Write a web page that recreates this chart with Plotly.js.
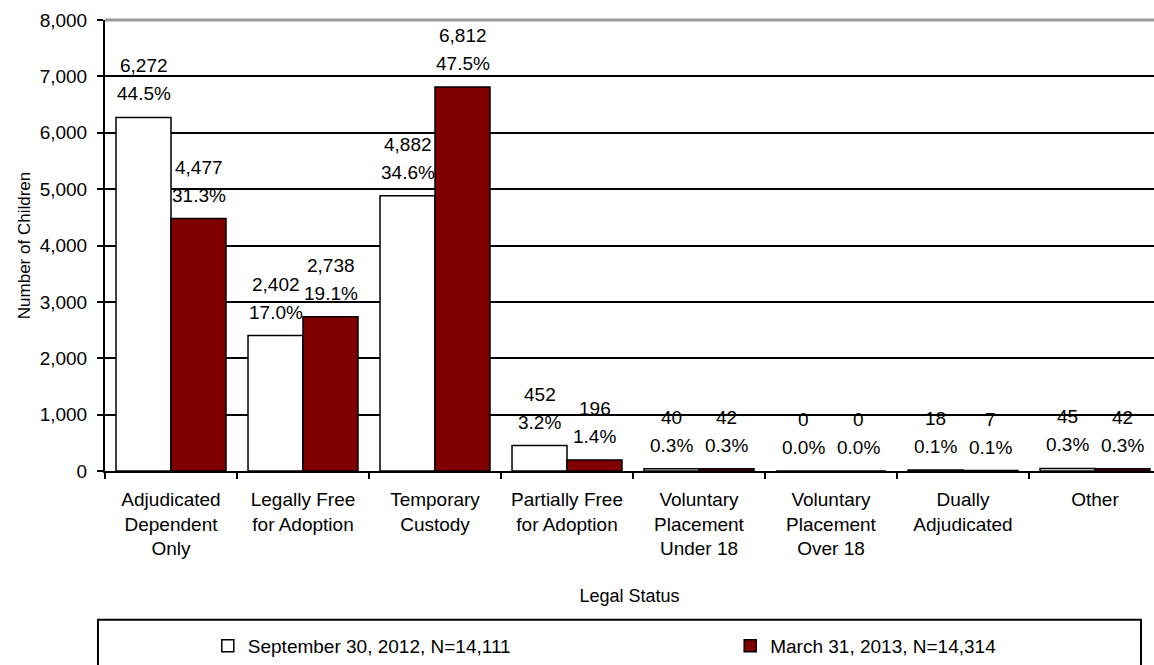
<!DOCTYPE html>
<html>
<head>
<meta charset="utf-8">
<script src="https://cdn.plot.ly/plotly-3.0.1.min.js"></script>
<style>html,body{margin:0;padding:0;background:#fff;}#chart{width:1154px;height:665px;}</style>
</head>
<body>
<div id="chart"></div>
<script>
const categories = ["Adjudicated<br>Dependent<br>Only", "Legally Free<br>for Adoption", "Temporary<br>Custody", "Partially Free<br>for Adoption", "Voluntary<br>Placement<br>Under 18", "Voluntary<br>Placement<br>Over 18", "Dually<br>Adjudicated", "Other"];
const seriesNames = ["September 30, 2012, N=14,111", "March 31, 2013, N=14,314"];
const sep2012 = [6272, 2402, 4882, 452, 40, 0, 18, 45];
const pct2012 = ["44.5%", "17.0%", "34.6%", "3.2%", "0.3%", "0.0%", "0.1%", "0.3%"];
const mar2013 = [4477, 2738, 6812, 196, 42, 0, 7, 42];
const pct2013 = ["31.3%", "19.1%", "47.5%", "1.4%", "0.3%", "0.0%", "0.1%", "0.3%"];
const yTickVals = [0, 1000, 2000, 3000, 4000, 5000, 6000, 7000, 8000];

const FONT = "Liberation Sans, Arial, sans-serif";
const traces = [
  {type: "bar", name: seriesNames[0], x: categories, y: sep2012, legend: "legend",
   marker: {color: "#ffffff", line: {color: "#000000", width: 1.5}}, hoverinfo: "y"},
  {type: "bar", name: seriesNames[1], x: categories, y: mar2013, legend: "legend2",
   marker: {color: "#800000", line: {color: "#000000", width: 1.5}}, hoverinfo: "y"}
];

const annotations = [];
const fmt = v => v.toLocaleString("en-US");
[[sep2012, pct2012, -27.5], [mar2013, pct2013, 27.5]].forEach(([vals, pcts, shift]) => {
  vals.forEach((v, i) => {
    annotations.push({x: categories[i], y: v, xref: "x", yref: "y", xshift: shift, yshift: 11,
      yanchor: "bottom", showarrow: false, text: pcts[i], font: {size: 19, color: "#000", family: FONT}});
    annotations.push({x: categories[i], y: v, xref: "x", yref: "y", xshift: shift, yshift: 39,
      yanchor: "bottom", showarrow: false, text: fmt(v), font: {size: 19, color: "#000", family: FONT}});
  });
});

const legendBase = {orientation: "h", xanchor: "left", y: -0.388, yanchor: "middle",
  font: {size: 19, family: FONT}, bgcolor: "rgba(0,0,0,0)"};

const layout = {
  width: 1154, height: 665,
  margin: {l: 105, r: 0, t: 20, b: 194},
  paper_bgcolor: "#ffffff", plot_bgcolor: "#ffffff",
  font: {family: FONT, size: 19, color: "#000"},
  barmode: "group", bargap: 0.167, bargroupgap: 0,
  showlegend: true,
  legend: Object.assign({}, legendBase, {x: 0.098}),
  legend2: Object.assign({}, legendBase, {x: 0.596}),
  xaxis: {type: "category", range: [-0.5, 7.447], tickson: "boundaries", ticks: "outside", ticklen: 6,
    tickwidth: 2, tickcolor: "#000", showline: true, linecolor: "#000", linewidth: 2, showgrid: false,
    tickfont: {size: 19}, tickangle: 0, ticklabelstandoff: 10,
    title: {text: "Legal Status", font: {size: 18}, standoff: 31}},
  yaxis: {range: [0, 8000], tickvals: yTickVals, tickformat: ",", ticks: "outside", ticklen: 6, tickwidth: 2,
    tickcolor: "#000", showline: true, linecolor: "#000", linewidth: 2, showgrid: true, gridcolor: "#000",
    gridwidth: 2, zeroline: false, tickfont: {size: 19}, ticklabelstandoff: 6,
    title: {text: "Number of Children", font: {size: 17}, standoff: 5}},
  shapes: [
    {type: "line", xref: "paper", yref: "paper", x0: 0, x1: 1, y0: 1, y1: 1, line: {color: "#999999", width: 3}, layer: "above"},
    {type: "rect", xref: "paper", yref: "paper", x0: -0.0067, x1: 0.9876, y0: -0.330, y1: -0.5,
     line: {color: "#000", width: 2}, fillcolor: "rgba(0,0,0,0)", layer: "below"}
  ],
  annotations: annotations
};

Plotly.newPlot("chart", traces, layout, {displayModeBar: false, staticPlot: true});
</script>
</body>
</html>
